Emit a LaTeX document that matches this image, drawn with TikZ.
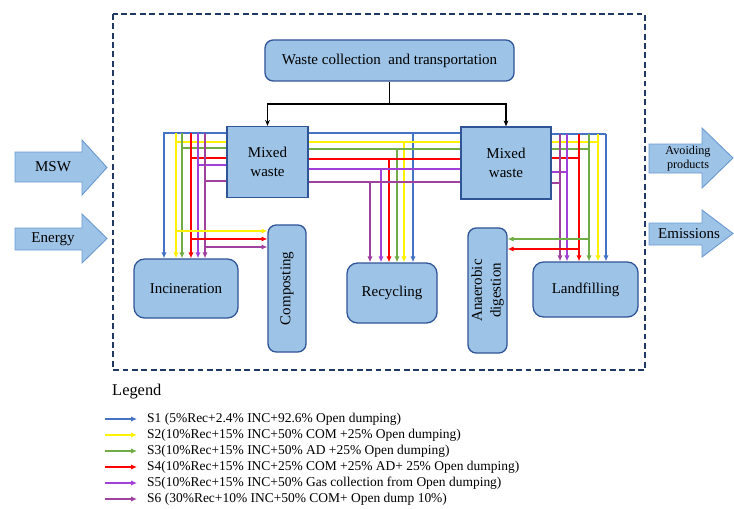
\documentclass[tikz,border=0pt]{standalone}
\usepackage{fontspec}
\setmainfont{Liberation Serif}
\usepackage{graphicx}
\usetikzlibrary{arrows.meta}

\definecolor{boxfill}{HTML}{9DC3E6}
\definecolor{boxline}{HTML}{2F5597}
\definecolor{arrline}{HTML}{6C9BD2}
\definecolor{framecol}{HTML}{1F3864}
\definecolor{scA}{HTML}{4472C4}
\definecolor{scB}{HTML}{FFF200}
\definecolor{scC}{HTML}{70AD47}
\definecolor{scD}{HTML}{FF0000}
\definecolor{scE}{HTML}{A040D8}
\definecolor{scF}{HTML}{A0409F}

\begin{document}
\begin{tikzpicture}[x=0.03cm,y=-0.03cm,
  box/.style={draw=boxline, fill=boxfill, line width=1.1pt, inner sep=0pt,
    align=center, font=\fontsize{12.8}{16}\selectfont},
  rbox/.style={box, rounded corners=7pt},
  flow/.style={line width=1.2pt},
  tip/.style={-{Latex[length=5pt,width=4.5pt]}},
  blockarrow/.style={draw=arrline, fill=boxfill, line width=0.8pt},
  arrlabel/.style={inner sep=0pt, align=center},
  legtext/.style={anchor=west, inner sep=0pt, font=\fontsize{11.5}{13}\selectfont},
]
\useasboundingbox (0,0) rectangle (734,508);

% system boundary
\draw[framecol, line width=1.3pt, dash pattern=on 5pt off 3pt] (113,14) rectangle (645,370);

% process boxes
\node[rbox, minimum width=7.47cm, minimum height=1.23cm] (wct) at (389.5,60.5) {Waste collection\ \ and transportation};
\node[box, minimum width=2.43cm, minimum height=2.13cm] (mwL) at (267.5,162) {Mixed\\waste};
\node[box, minimum width=2.7cm, minimum height=2.16cm] (mwR) at (506,163) {Mixed\\waste};
\node[rbox, rounded corners=9pt, minimum width=3.12cm, minimum height=1.77cm] (inc) at (186,288.5) {Incineration};
\node[rbox, minimum width=1.14cm, minimum height=3.81cm] (com) at (287,288.5) {\rotatebox{90}{Composting}};
\node[rbox, rounded corners=9pt, minimum width=2.7cm, minimum height=1.8cm] (rec) at (392,293) {Recycling};
\node[rbox, minimum width=1.17cm, minimum height=3.75cm] (ad) at (487.5,290.5)
  {\rotatebox{90}{\begin{tabular}{@{}c@{}}Anaerobic\\digestion\end{tabular}}};
\node[rbox, rounded corners=9pt, minimum width=3.15cm, minimum height=1.65cm] (lan) at (585.5,289.5) {Landfilling};

% collection splits to both mixed-waste streams
\draw[line width=1pt] (wct.south) -- (wct.south |- 0,104) coordinate (split);
\draw[line width=1pt, -{Stealth[length=5pt,width=4pt]}] (split) -| (mwL.north);
\draw[line width=1pt, -{Stealth[length=5pt,width=4pt]}] (split) -| (mwR.north);

% left mixed waste -> incineration
\draw[flow, color=scA, tip] (mwL.west |- 0,133) -| (164,0 |- inc.north);
\foreach \c/\y/\x in {scB/142/176, scC/148/182, scD/158/191, scE/165/198, scF/181/205}{
  \draw[flow, color=\c] (mwL.west |- 0,\y) -- (\x,\y);
  \draw[flow, color=\c, tip] (\x,133) -- (\x,0 |- inc.north);
}
% branches to composting
\foreach \c/\y/\x in {scB/231/176, scD/239/191, scF/247/205}
  \draw[flow, color=\c, tip] (\x,\y) -- (com.west |- 0,\y);

% links between the two mixed-waste boxes, with drops to recycling
\foreach \c/\y/\x in {scA/133/413, scB/142/404, scC/149/397, scD/159/389, scE/169/381, scF/182/370}{
  \draw[flow, color=\c] (mwL.east |- 0,\y) -- (mwR.west |- 0,\y);
  \draw[flow, color=\c, tip] (\x,\y) -- (\x,0 |- rec.north);
}

% right mixed waste -> landfilling
\foreach \c/\y/\x in {scA/134/606, scB/142/598, scC/149/589, scD/158/579, scE/172/567, scF/183/560}{
  \draw[flow, color=\c] (mwR.east |- 0,\y) -- (\x,\y);
  \draw[flow, color=\c, tip] (\x,134) -- (\x,0 |- lan.north);
}
% branches to anaerobic digestion
\foreach \c/\y/\x in {scC/239/589, scD/249/579}
  \draw[flow, color=\c, tip] (\x,\y) -- (ad.east |- 0,\y);

% inputs and outputs
\draw[blockarrow] (15,152) -- (82,152) -- (82,140) -- (107,167.5) -- (82,195) -- (82,182) -- (15,182) -- cycle;
\node[arrlabel, font=\fontsize{12.8}{15}\selectfont] (msw) at (53,167) {MSW};
\draw[blockarrow] (15,228) -- (82,228) -- (82,214) -- (107,238.5) -- (82,263) -- (82,250) -- (15,250) -- cycle;
\node[arrlabel, font=\fontsize{12.8}{15}\selectfont] (energy) at (53,239) {Energy};
\draw[blockarrow] (649,144) -- (702,144) -- (702,128) -- (733,158) -- (702,188) -- (702,173) -- (649,173) -- cycle;
\node[arrlabel, font=\fontsize{10.4}{12}\selectfont] (avoid) at (688,159) {Avoiding\\products};
\draw[blockarrow] (649,223) -- (702,223) -- (702,210) -- (733,233.5) -- (702,257) -- (702,245) -- (649,245) -- cycle;
\node[arrlabel, font=\fontsize{12.8}{15}\selectfont] (emis) at (689,234) {Emissions};

% legend
\node[anchor=west, inner sep=0pt, font=\fontsize{14}{16}\selectfont] (legtitle) at (112,392) {Legend};
\foreach \i/\c/\y/\t in {
  1/scA/419/{S1 (5\%Rec+2.4\% INC+92.6\% Open dumping)},
  2/scB/435/{S2(10\%Rec+15\% INC+50\% COM +25\% Open dumping)},
  3/scC/451/{S3(10\%Rec+15\% INC+50\% AD +25\% Open dumping)},
  4/scD/467/{S4(10\%Rec+15\% INC+25\% COM +25\% AD+ 25\% Open dumping)},
  5/scE/483/{S5(10\%Rec+15\% INC+50\% Gas collection from Open dumping)},
  6/scF/499/{S6 (30\%Rec+10\% INC+50\% COM+ Open dump 10\%)}}{
  \node[legtext] (leg\i) at (147,\y) {\t};
  \draw[flow, color=\c, tip] (105,\y) -- (137,\y);
}
\end{tikzpicture}
\end{document}
